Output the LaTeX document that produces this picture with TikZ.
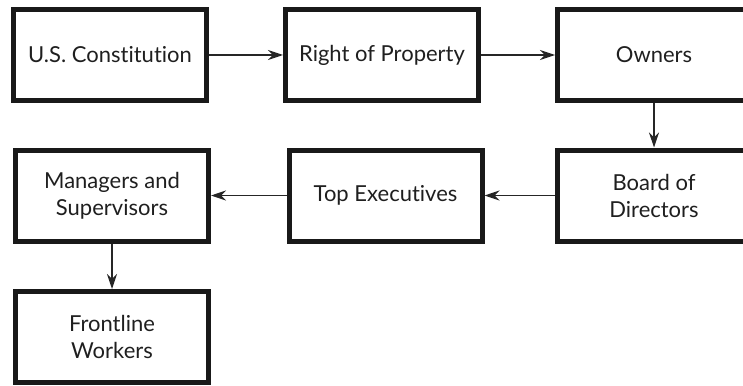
\documentclass[tikz,border=0pt]{standalone}
\usepackage{fontspec}
\setmainfont{Lato}[Ligatures=NoCommon]
\usetikzlibrary{arrows.meta}
\begin{document}
\begin{tikzpicture}[x=1pt,y=-1pt,
  box/.style={draw=black!90, line width=5pt, minimum width=193pt, minimum height=91pt,
    align=center, font=\fontsize{22}{27}\selectfont, text=black!88, inner sep=0pt,
    execute at begin node={\vspace*{5pt}}},
  conn/.style={draw=black!85, line width=1.4pt, -{Stealth[length=15pt,width=10pt,inset=5pt]}}]
\useasboundingbox (0,0) rectangle (743,385);
\node[box] (const) at (110,55) {U.S. Constitution};
\node[box] (prop) at (382,55) {Right of Property};
\node[box] (own) at (654,55) {Owners};
\node[box] (board) at (654,195.5) {Board of\\Directors};
\node[box] (exec) at (385.5,195.5) {Top Executives};
\node[box] (mgr) at (112,195.5) {Managers and\\Supervisors};
\node[box] (front) at (112,337) {Frontline\\Workers};
\draw[conn] (const) -- (prop);
\draw[conn] (prop) -- (own);
\draw[conn] (own) -- (board);
\draw[conn] (board) -- (exec);
\draw[conn] (exec) -- (mgr);
\draw[conn] (mgr) -- (front);
\end{tikzpicture}
\end{document}
